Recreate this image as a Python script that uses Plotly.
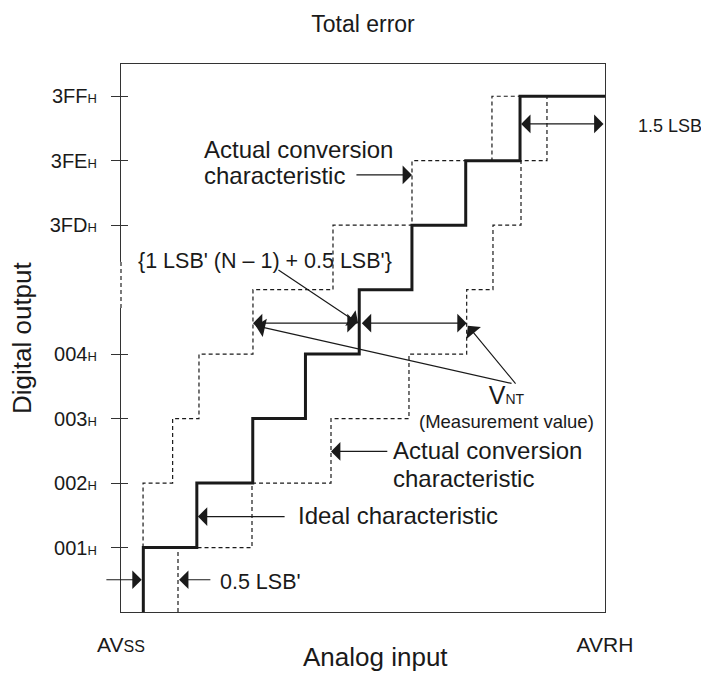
import plotly.graph_objects as go

# ---- data (x in LSB' steps from AVSS=0 to AVRH=9, y in output code steps) ----
ideal_x = [0.415, 0.415, 1.41, 2.45, 3.43, 4.43, 5.41, 6.41, 7.42, 9.0]
ideal_y = [0, 1, 2, 3, 4, 5, 6, 7, 8, 8]
actual_hi_x = [0.41, 0.41, 0.96, 1.45, 2.454, 3.942, 5.411, 6.898, 7.42]
actual_hi_y = [1, 2, 3, 4, 5, 6, 7, 8, 8]
actual_lo_x = [1.06, 1.06, 2.436, 3.905, 5.355, 6.428, 6.917, 7.438, 7.921]
actual_lo_y = [0, 1, 2, 3, 4, 5, 6, 7, 8]

y_tick_vals = [1, 2, 3, 4, 6, 7, 8]
y_tick_codes = ["001", "002", "003", "004", "3FD", "3FE", "3FF"]
x_tick_vals = [0, 9]
x_tick_labels = ["AV<span style='font-size:16px'>SS</span>", "AVRH"]

X_RANGE = [0, 9]
Y_RANGE = [0, 8.5]

FONT = "Liberation Sans, Arial, Helvetica, sans-serif"
INK = "#1a1a1a"
AX = "#333333"

fig = go.Figure()
fig.add_trace(go.Scatter(x=actual_hi_x, y=actual_hi_y, mode="lines", line_shape="hv",
                         line=dict(color=INK, width=1.2, dash="4px,3px"), hoverinfo="skip"))
fig.add_trace(go.Scatter(x=actual_lo_x, y=actual_lo_y, mode="lines", line_shape="hv",
                         line=dict(color=INK, width=1.2, dash="4px,3px"), hoverinfo="skip"))
fig.add_trace(go.Scatter(x=ideal_x, y=ideal_y, mode="lines", line_shape="hv",
                         line=dict(color=INK, width=3), hoverinfo="skip"))
fig.add_trace(go.Scatter(x=[], y=[], yaxis="y2", hoverinfo="skip"))

y_tick_text = [c + "<span style='font-size:13px'>H</span>" for c in y_tick_codes]

# the page body has an 8px margin, so the figure is placed at (8, 8)
OFF = 8
W, H = 709 - OFF, 674 - OFF
L, R, T, B = 121 - OFF, 104, 64 - OFF, 62
PW, PH = W - L - R, H - T - B


def xp(px):
    return (px - OFF - L) / PW


def yp(py):
    return (H - B - (py - OFF)) / PH


annotations = []


def text(s, x, y, size, anchor="left", angle=0):
    annotations.append(dict(text=s, x=xp(x), y=yp(y), xref="paper", yref="paper",
                            xanchor=anchor, yanchor="middle", showarrow=False,
                            textangle=angle, font=dict(family=FONT, size=size, color=INK)))


def arrow(hx, hy, tx, ty, both=False):
    annotations.append(dict(text="", x=hx, y=hy, ax=tx, ay=ty, xref="x", yref="y",
                            axref="x", ayref="y", showarrow=True,
                            arrowhead=1, arrowsize=2.6, arrowwidth=1.2, arrowcolor=INK,
                            startarrowhead=1, startarrowsize=2.6,
                            arrowside="end+start" if both else "end",
                            standoff=0, startstandoff=0))


# axis titles
text("Digital output", 22, 338, 26, anchor="center", angle=-90)
text("Analog input", 375, 657, 26, anchor="center")

# labels
text("Actual conversion", 202, 149, 24)
text("characteristic", 202, 175, 24)
text("{1 LSB' (N \u2013 1) + 0.5 LSB'}", 136, 261, 21.5)
text("<span style='font-size:25px'>V</span><span style='font-size:14px'>NT</span>"
     "<br>(Measurement value)", 506, 406, 18.5, anchor="center")
text("Actual conversion", 391, 450, 24)
text("characteristic", 391, 478, 24)
text("Ideal characteristic", 296, 515, 24)
text("0.5 LSB'", 218, 582, 21.5)
text("1.5 LSB'", 636, 126, 18)

# arrows (data coordinates)
yr = 4.48
arrow(actual_hi_x[6], 6.78, 4.35, 6.78)
arrow(ideal_x[5] - 0.02, yr, 2.90, 5.32)
arrow(actual_hi_x[4], yr, ideal_x[5] - 0.02, yr, both=True)
arrow(actual_lo_x[5], yr, ideal_x[5] + 0.02, yr, both=True)
arrow(actual_hi_x[4] + 0.05, 4.44, 7.29, 3.54)
arrow(actual_lo_x[5] + 0.02, 4.44, 7.36, 3.52)
arrow(actual_lo_x[3], 2.49, 4.98, 2.49)
arrow(ideal_x[2] + 0.02, 1.48, 3.07, 1.48)
arrow(actual_lo_x[0] + 0.02, 0.5, 1.69, 0.5)
arrow(ideal_x[0] - 0.03, 0.5, -0.30, 0.5)
arrow(ideal_x[8] + 0.02, 7.57, X_RANGE[1], 7.57, both=True)

# break in the left axis line
shapes = [
    dict(type="line", xref="paper", yref="y", x0=0, x1=0, y0=4.715, y1=5.43,
         line=dict(color="white", width=3), layer="above"),
    dict(type="line", xref="paper", yref="y", x0=0, x1=0, y0=4.715, y1=5.43,
         line=dict(color=AX, width=1.3, dash="4px,3px"), layer="above"),
]

fig.update_layout(
    width=W, height=H,
    margin=dict(l=L, r=R, t=T, b=B, pad=0),
    paper_bgcolor="white", plot_bgcolor="white",
    showlegend=False,
    title=dict(text="Total error", x=(363 - OFF) / W, y=1 - (24 - OFF) / H,
               xanchor="center", yanchor="middle",
               xref="container", yref="container",
               font=dict(family=FONT, size=23, color=INK)),
    xaxis=dict(range=X_RANGE, tickvals=x_tick_vals, ticktext=x_tick_labels, ticks="",
               showgrid=False, zeroline=False, showline=True, mirror=True,
               linecolor=AX, linewidth=1.3, ticklabelstandoff=14,
               tickfont=dict(family=FONT, size=21, color=INK)),
    yaxis=dict(range=Y_RANGE, tickvals=y_tick_vals, ticktext=y_tick_text, ticks="outside",
               ticklen=9, tickwidth=1.3, tickcolor=AX,
               showgrid=False, zeroline=False, showline=True, mirror=True,
               linecolor=AX, linewidth=1.3, ticklabelstandoff=10,
               tickfont=dict(family=FONT, size=20, color=INK)),
    yaxis2=dict(range=Y_RANGE, overlaying="y", side="left", tickvals=y_tick_vals,
                ticks="inside", ticklen=7, tickwidth=1.3, tickcolor=AX,
                showticklabels=False, showgrid=False, zeroline=False, showline=False),
    annotations=annotations,
    shapes=shapes,
)

fig.write_html("out.html")
